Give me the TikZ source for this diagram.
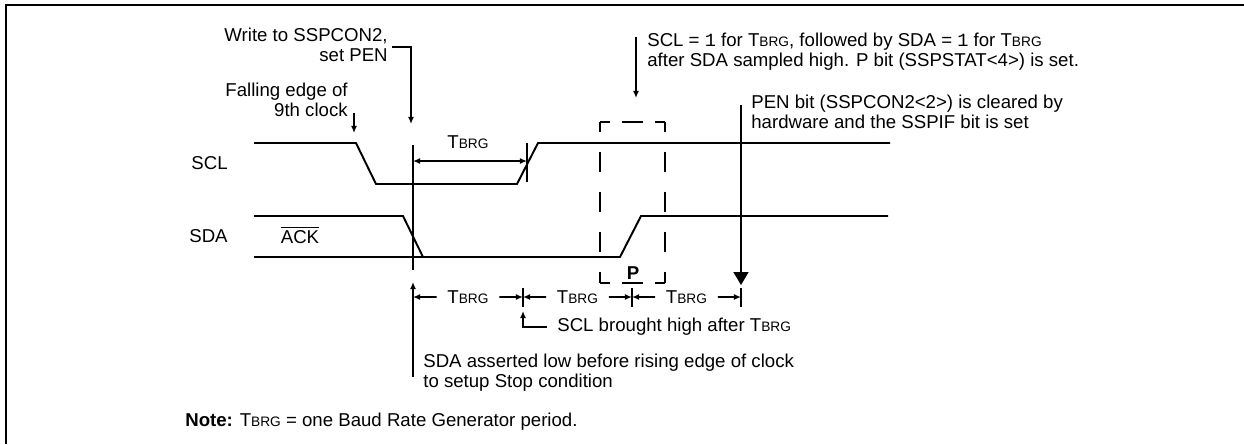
\documentclass[tikz,border=0pt]{standalone}
\usepackage{fontspec}
\setmainfont{Liberation Sans}
\newfontfamily\codefont{Liberation Mono}
\usetikzlibrary{arrows.meta,calc}
\newcommand{\tbrg}{T{\fontsize{7.8}{9}\selectfont BRG}}
\tikzset{
	wave/.style={line width=1.1pt},
	marker/.style={line width=1.1pt},
	tick/.style={line width=0.9pt},
	callout/.style={line width=0.9pt, -{Latex[length=4pt,width=3.4pt]}},
	dim/.style={line width=0.9pt, -{Latex[length=4pt,width=3.4pt]}},
	span/.style={line width=0.9pt, {Latex[length=4pt,width=3.4pt]}-{Latex[length=4pt,width=3.4pt]}},
	vdash/.style={line width=1.1pt, dash pattern=on 11.4pt off 11.4pt, dash phase=5.7pt},
	hdash/.style={line width=1.1pt, dash pattern=on 11.4pt off 7.1pt, dash phase=5.7pt}
}
\begin{document}
\begin{tikzpicture}[x=0.02cm, y=-0.02cm, font=\fontsize{10.6}{11.4}\selectfont,
		every node/.style={inner sep=0}]
	\useasboundingbox (0,0) rectangle (1244,444);
	\draw [line width=1.4pt] (6,444) -- (6,5) -- (1244,5);
	% signal names and waveforms
	\node [anchor=east] (sclname) at (228,163) {SCL};
	\node [anchor=east] (sdaname) at (228,236) {SDA};
	\node (ack) at (300,235) {$\overline{\mbox{ACK}}$};
	\draw [wave] (254,143) -- (356,143) -- (376,184) -- (517,184) -- (538,143) -- (890,143);
	\draw [wave] (254,216) -- (403,216) -- (423,257);
	\draw [wave] (254,257) -- (620,257) -- (641,216) -- (888,216);
	% start of stop sequence
	\coordinate (start) at (413,145);
	\coordinate (sclrise) at (527,161);
	\draw [marker] (start) -- (413,270);
	\draw [tick] (527,143) -- (527,182);
	\draw [span] (start |- sclrise) -- (sclrise);
	\node (tbrgtop) at (468,142) {\tbrg};
	% stop condition box
	\draw [vdash] (600,122) -- (600,283);
	\draw [vdash] (665,122) -- (665,283);
	\draw [hdash] (600,122) -- (665,122);
	\draw [hdash] (600,283) -- (665,283);
	\node (pbit) at (633,273) {\bfseries P};
	% callouts
	\node [anchor=east, align=right] (writepen) at (388,45) {Write to SSPCON2,\\set PEN};
	\coordinate (writetip) at (411,124);
	\draw [callout] (writepen.east) ++(4,2) -| (writetip);
	\node [anchor=east, align=right] (falledge) at (348,100) {Falling edge of\\9th clock};
	\coordinate (falltip) at (354,133);
	\draw [callout] (falledge.east) ++(6,13) -- (falltip);
	\node [anchor=west, align=left] (stopnote) at (647,52) {SCL = {\codefont 1} for \tbrg, followed by SDA = {\codefont 1} for \tbrg\\after SDA sampled high. P bit (SSPSTAT<4>) is set.};
	\coordinate (stoptip) at (636,98);
	\draw [callout] (stopnote.west) ++(-11,-15) -- (stoptip);
	\node [anchor=west, align=left] (pennote) at (751,112) {PEN bit (SSPCON2<2>) is cleared by\\hardware and the SSPIF bit is set};
	\coordinate (pentip) at (741,285);
	\draw [line width=1.1pt, -{Triangle[length=7.4pt,width=8.5pt]}] (pennote.west) ++(-10,-7) -- (pentip);
	% TBRG periods
	\coordinate (t0) at (413,297);
	\coordinate (t1) at (523,297);
	\coordinate (t2) at (632,297);
	\coordinate (t3) at (741,297);
	\foreach \t in {1,2,3} {
		\draw [tick] (t\t) ++(0,-9) -- ++(0,19);
	}
	\foreach \a/\b [count=\i] in {t0/t1, t1/t2, t2/t3} {
		\node [inner xsep=6pt] (period\i) at ($(\a)!0.5!(\b)$) {\tbrg};
		\draw [dim] (period\i.west) -- (\a);
		\draw [dim] (period\i.east) -- (\b);
	}
	\node [anchor=west] (sclhigh) at (557,327) {SCL brought high after \tbrg};
	\coordinate (scltip) at (523,311);
	\draw [callout] (sclhigh.west) ++(-10,0) -| (scltip);
	\node [anchor=west, align=left] (sdalow) at (423,373) {SDA asserted low before rising edge of clock\\to setup Stop condition};
	\coordinate (sdatip) at (413,282);
	\draw [callout] (sdalow.west) ++(-10,4) -- (sdatip);
	\node [anchor=west] (note) at (185,422) {\textbf{Note:} \tbrg{} = one Baud Rate Generator period.};
\end{tikzpicture}
\end{document}
